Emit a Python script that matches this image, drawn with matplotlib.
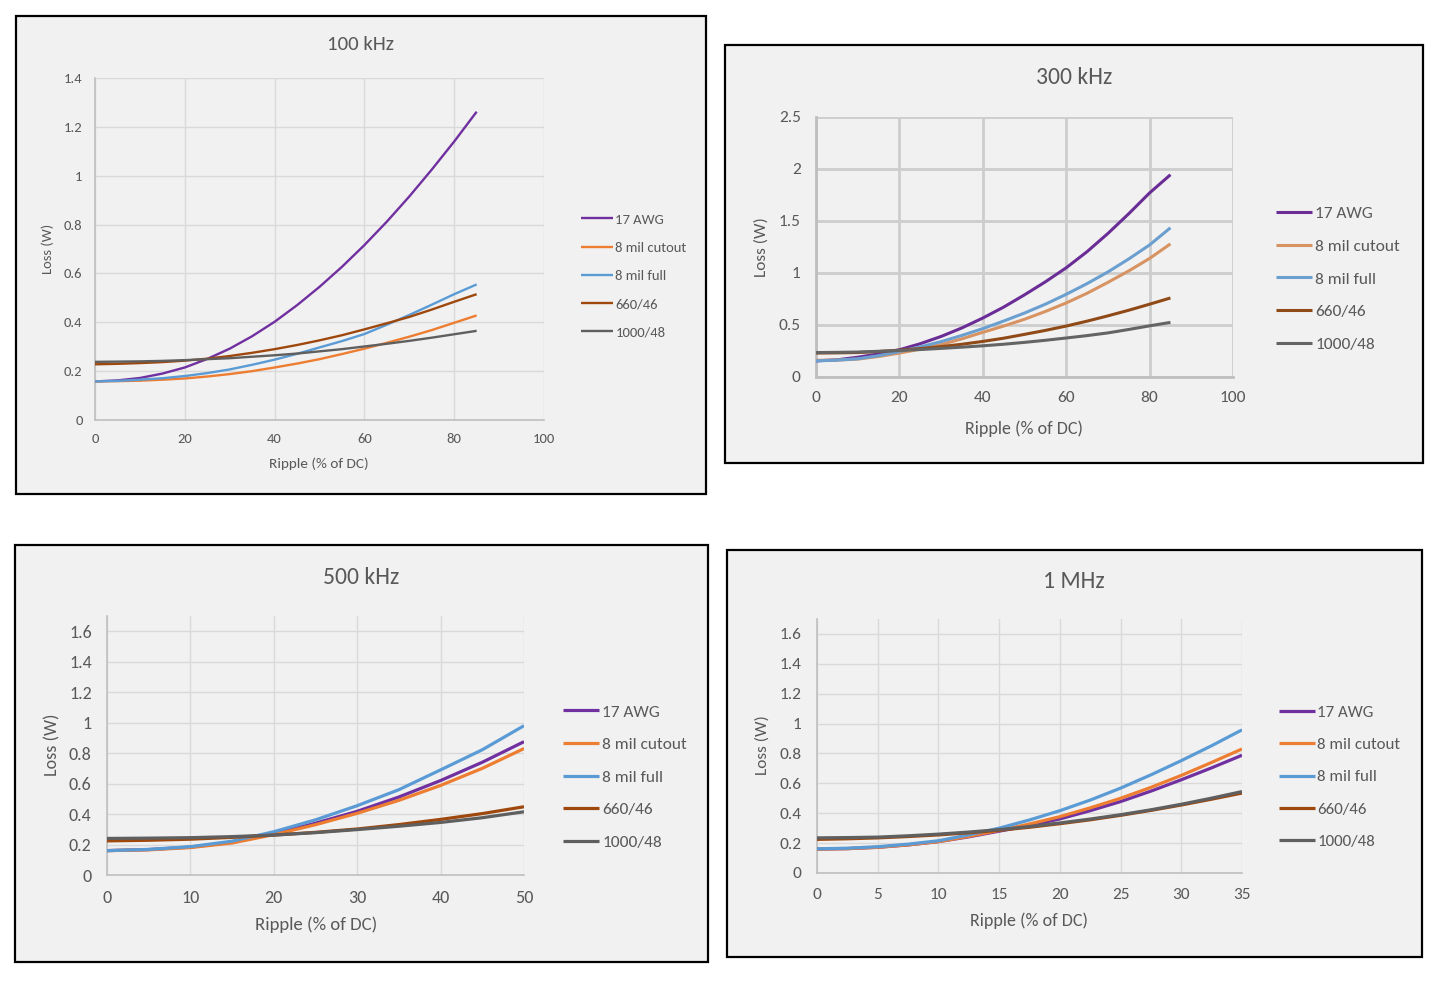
import matplotlib
matplotlib.use('Agg')
import matplotlib.pyplot as plt
from matplotlib import font_manager
from matplotlib.patches import Rectangle

# ---------------- data ----------------
series_names = ["17 AWG", "8 mil cutout", "8 mil full", "660/46", "1000/48"]

x_100k = [0, 5, 10, 15, 20, 25, 30, 35, 40, 45, 50, 55, 60, 65, 70, 75, 80, 85]
awg17_100k = [0.158, 0.162, 0.172, 0.190, 0.215, 0.250, 0.292, 0.343, 0.402, 0.470,
              0.545, 0.627, 0.716, 0.812, 0.915, 1.025, 1.140, 1.262]
cut8_100k  = [0.158, 0.159, 0.161, 0.165, 0.170, 0.178, 0.188, 0.200, 0.215, 0.231,
              0.249, 0.270, 0.292, 0.316, 0.341, 0.368, 0.398, 0.428]
full8_100k = [0.158, 0.160, 0.165, 0.171, 0.180, 0.192, 0.207, 0.226, 0.247, 0.271,
              0.297, 0.323, 0.352, 0.390, 0.430, 0.472, 0.515, 0.555]
b660_100k  = [0.228, 0.230, 0.233, 0.237, 0.243, 0.251, 0.262, 0.275, 0.290, 0.307,
              0.326, 0.347, 0.371, 0.396, 0.422, 0.452, 0.484, 0.515]
b1000_100k = [0.238, 0.239, 0.240, 0.242, 0.245, 0.249, 0.253, 0.259, 0.265, 0.272,
              0.281, 0.290, 0.301, 0.312, 0.324, 0.337, 0.351, 0.365]

x_300k = [0, 5, 10, 15, 20, 25, 30, 35, 40, 45, 50, 55, 60, 65, 70, 75, 80, 85]
awg17_300k = [0.155, 0.165, 0.190, 0.222, 0.262, 0.320, 0.390, 0.472, 0.567, 0.672,
              0.790, 0.915, 1.050, 1.205, 1.380, 1.570, 1.770, 1.945]
cut8_300k  = [0.160, 0.163, 0.172, 0.197, 0.230, 0.268, 0.312, 0.367, 0.430, 0.490,
              0.555, 0.630, 0.712, 0.805, 0.910, 1.020, 1.140, 1.280]
full8_300k = [0.155, 0.162, 0.175, 0.205, 0.245, 0.290, 0.340, 0.400, 0.465, 0.538,
              0.615, 0.700, 0.795, 0.898, 1.010, 1.135, 1.270, 1.435]
b660_300k  = [0.230, 0.232, 0.235, 0.245, 0.258, 0.273, 0.292, 0.315, 0.342, 0.373,
              0.410, 0.448, 0.490, 0.537, 0.588, 0.642, 0.700, 0.760]
b1000_300k = [0.235, 0.237, 0.240, 0.247, 0.255, 0.264, 0.275, 0.287, 0.300, 0.315,
              0.333, 0.353, 0.375, 0.398, 0.424, 0.457, 0.492, 0.525]

x_500k = [0, 5, 10, 15, 20, 25, 30, 35, 40, 45, 50]
awg17_500k = [0.160, 0.167, 0.183, 0.215, 0.270, 0.340, 0.418, 0.512, 0.620, 0.740, 0.875]
cut8_500k  = [0.160, 0.165, 0.180, 0.210, 0.265, 0.330, 0.405, 0.490, 0.588, 0.700, 0.830]
full8_500k = [0.160, 0.168, 0.186, 0.222, 0.284, 0.362, 0.455, 0.560, 0.690, 0.822, 0.980]
b660_500k  = [0.224, 0.228, 0.235, 0.247, 0.262, 0.280, 0.302, 0.331, 0.365, 0.403, 0.448]
b1000_500k = [0.240, 0.242, 0.245, 0.252, 0.262, 0.278, 0.298, 0.320, 0.345, 0.376, 0.415]

x_1m = [0, 2.5, 5, 7.5, 10, 12.5, 15, 17.5, 20, 22.5, 25, 27.5, 30, 32.5, 35]
awg17_1m = [0.160, 0.163, 0.172, 0.188, 0.210, 0.242, 0.280, 0.318, 0.362, 0.417,
            0.478, 0.548, 0.624, 0.704, 0.788]
cut8_1m  = [0.160, 0.163, 0.172, 0.188, 0.210, 0.245, 0.285, 0.328, 0.377, 0.436,
            0.500, 0.573, 0.653, 0.740, 0.830]
full8_1m = [0.162, 0.166, 0.176, 0.193, 0.216, 0.255, 0.300, 0.355, 0.417, 0.488,
            0.568, 0.657, 0.752, 0.852, 0.958]
b660_1m  = [0.225, 0.229, 0.235, 0.244, 0.255, 0.269, 0.286, 0.306, 0.330, 0.356,
            0.386, 0.419, 0.455, 0.494, 0.535]
b1000_1m = [0.235, 0.237, 0.240, 0.249, 0.260, 0.274, 0.290, 0.311, 0.335, 0.361,
            0.390, 0.423, 0.460, 0.501, 0.545]

titles = ["100 kHz", "300 kHz", "500 kHz", "1 MHz"]
xlabel_text = "Ripple (% of DC)"
ylabel_text = "Loss (W)"

# ---------------- style ----------------
W, H = 1436, 1008
names = {f.name for f in font_manager.fontManager.ttflist}
font = 'Carlito' if 'Carlito' in names else 'Lato'
plt.rcParams['font.family'] = [font, 'DejaVu Sans']

fig = plt.figure(figsize=(W / 100, H / 100), dpi=100)
fig.patch.set_facecolor('white')

def fx(px):
    return px / W

def fy(py):
    return 1 - py / H

TXT = '#595959'
BG = '#f1f1f1'

colors_std = ['#7030a0', '#ed7d31', '#5b9bd5', '#9e480e', '#5f5f5f']
colors_300 = ['#6a2d96', '#d89363', '#6a9fcf', '#8f4a17', '#646464']

panels = [
    dict(x=x_100k, ys=[awg17_100k, cut8_100k, full8_100k, b660_100k, b1000_100k],
         border=(16, 16, 706, 494), ax=(95, 78, 544, 420),
         xlim=(0, 100), ylim=(0, 1.4), xticks=[0, 20, 40, 60, 80, 100],
         yticks=[0, 0.2, 0.4, 0.6, 0.8, 1.0, 1.2, 1.4],
         title=(361, 44, 15), ylab=(48, 249), xlab=(319, 464), fs=10.5,
         leg=(581, 276), leg_fs=10.5, leg_ls=1.1, colors=colors_std, lw=1.7,
         grid=('#d9d9d9', 1.0), ypad=9, xpad=9, hl=2.2),
    dict(x=x_300k, ys=[awg17_300k, cut8_300k, full8_300k, b660_300k, b1000_300k],
         border=(725, 45, 1423, 463), ax=(816, 117, 1233, 377),
         xlim=(0, 100), ylim=(0, 2.5), xticks=[0, 20, 40, 60, 80, 100],
         yticks=[0, 0.5, 1.0, 1.5, 2.0, 2.5],
         title=(1074, 78, 17), ylab=(762, 247), xlab=(1024, 429), fs=12.5,
         leg=(1276, 279), leg_fs=12.5, leg_ls=1.02, colors=colors_300, lw=2.2,
         grid=('#cdcdcd', 2.0), ypad=11, xpad=10, hl=2.1),
    dict(x=x_500k, ys=[awg17_500k, cut8_500k, full8_500k, b660_500k, b1000_500k],
         border=(15, 545, 708, 962), ax=(107, 616, 524, 875),
         xlim=(0, 50), ylim=(0, 1.7), xticks=[0, 10, 20, 30, 40, 50],
         yticks=[0, 0.2, 0.4, 0.6, 0.8, 1.0, 1.2, 1.4, 1.6],
         title=(361, 577, 17), ylab=(52, 745), xlab=(316, 925), fs=13,
         leg=(563, 777), leg_fs=12.5, leg_ls=1.0, colors=colors_std, lw=2.3,
         grid=('#d9d9d9', 1.0), ypad=11, xpad=11, hl=2.1),
    dict(x=x_1m, ys=[awg17_1m, cut8_1m, full8_1m, b660_1m, b1000_1m],
         border=(727, 550, 1422, 957), ax=(817, 619, 1242, 873),
         xlim=(0, 35), ylim=(0, 1.7), xticks=[0, 5, 10, 15, 20, 25, 30, 35],
         yticks=[0, 0.2, 0.4, 0.6, 0.8, 1.0, 1.2, 1.4, 1.6],
         title=(1074, 582, 17), ylab=(763, 745), xlab=(1029, 921), fs=12.5,
         leg=(1279, 777), leg_fs=12.2, leg_ls=1.02, colors=colors_std, lw=2.3,
         grid=('#d9d9d9', 1.0), ypad=11, xpad=11, hl=2.1),
]

for i, p in enumerate(panels):
    l, t, r, b = p['border']
    fig.patches.append(Rectangle((fx(l), fy(b)), fx(r) - fx(l), fy(t) - fy(b),
                                 transform=fig.transFigure, facecolor=BG,
                                 edgecolor='black', linewidth=1.6, zorder=-10))
    al, at, ar, ab = p['ax']
    ax = fig.add_axes([fx(al), fy(ab), fx(ar) - fx(al), fy(at) - fy(ab)])
    ax.set_zorder(1)
    ax.set_facecolor('none')
    ax.set_xlim(*p['xlim'])
    ax.set_ylim(*p['ylim'])
    ax.set_xticks(p['xticks'])
    ax.set_yticks(p['yticks'])
    ax.set_xticklabels([f"{v:g}" for v in p['xticks']])
    ax.set_yticklabels([f"{v:g}" for v in p['yticks']])
    ax.tick_params(length=0, labelsize=p['fs'], colors=TXT)
    ax.tick_params(axis='y', pad=p['ypad'])
    ax.tick_params(axis='x', pad=p['xpad'])
    gc, gw = p['grid']
    ax.grid(True, color=gc, linewidth=gw, zorder=0)
    ax.set_axisbelow(True)
    for s in ['top', 'right']:
        ax.spines[s].set_visible(False)
    for s in ['left', 'bottom']:
        ax.spines[s].set_color('#bfbfbf')
        ax.spines[s].set_linewidth(1.2 if i != 1 else 2.0)
    handles = []
    for name, y, c in zip(series_names, p['ys'], p['colors']):
        h, = ax.plot(p['x'], y, color=c, linewidth=p['lw'], label=name,
                     solid_capstyle='butt', solid_joinstyle='round', zorder=3)
        handles.append(h)
    lx, ly = p['leg']
    ax.legend(handles=handles, loc='center left',
              bbox_to_anchor=(fx(lx), fy(ly)), bbox_transform=fig.transFigure,
              frameon=False, fontsize=p['leg_fs'], labelcolor=TXT,
              handlelength=p['hl'], handletextpad=0.15, labelspacing=p['leg_ls'],
              borderpad=0, borderaxespad=0)
    tx, ty, tfs = p['title']
    fig.text(fx(tx), fy(ty), titles[i], ha='center', va='center',
             fontsize=tfs, color=TXT, zorder=2)
    yx, yy = p['ylab']
    fig.text(fx(yx), fy(yy), ylabel_text, ha='center', va='center',
             rotation=90, fontsize=p['fs'], color=TXT, zorder=2)
    xx, xy = p['xlab']
    fig.text(fx(xx), fy(xy), xlabel_text, ha='center', va='center',
             fontsize=p['fs'] + 0.5, color=TXT, zorder=2)

fig.savefig('out.png', dpi=100, facecolor='white')
